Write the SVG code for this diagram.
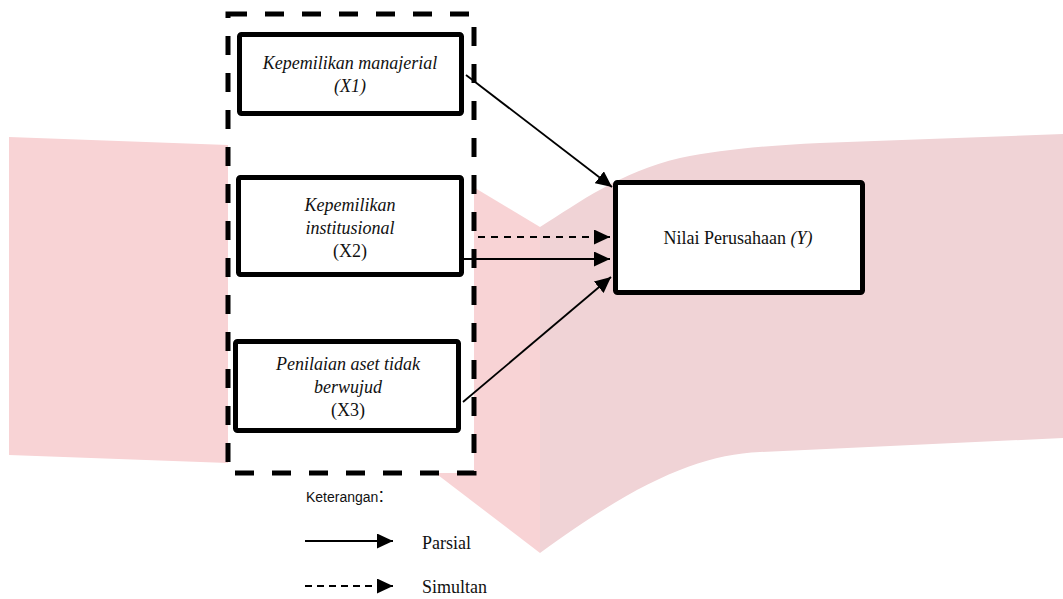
<svg xmlns="http://www.w3.org/2000/svg" width="1063" height="599" viewBox="0 0 1063 599">
<style>
.box{fill:#ffffff;stroke:#000;stroke-width:5}
.t{font-family:"Liberation Serif","Times New Roman",serif;font-size:18px;fill:#111;text-anchor:middle}
.i{font-style:italic}
.ln{stroke:#000;stroke-width:1.8;fill:none}
.dash{stroke-dasharray:7 6}
.lg{font-family:"Liberation Serif","Times New Roman",serif;font-size:18px;fill:#111}
</style>
<defs>
<marker id="ah" markerUnits="userSpaceOnUse" markerWidth="16" markerHeight="15" refX="16" refY="7.5" orient="auto">
<path d="M0,0 L16,7.5 L0,15 Z" fill="#000"/>
</marker>
</defs>
<rect width="1063" height="599" fill="#ffffff"/>
<g id="watermark">
<polygon points="9,137 228,145 228,463 9,455" fill="#f8d3d5"/>
<polygon points="400,143 540,227 540,553 400,446" fill="#f8d3d5"/>
<path d="M540,227 C580,202 620,172 680,158 C720,150 760,146 820,143 L1063,134 L1063,438 L760,452 C700,455 640,480 540,553 Z" fill="#f0d3d6"/>
</g>
<g id="group-x">
<rect x="228" y="14" width="246" height="459" fill="#ffffff" stroke="#000" stroke-width="5" stroke-dasharray="19 18"/>
</g>
<g id="node-x1">
<rect class="box" x="239.5" y="34.5" width="222" height="79" rx="2"/>
<text class="t i" x="350" y="69">Kepemilikan manajerial</text>
<text class="t i" x="350" y="92">(X1)</text>
</g>
<g id="node-x2">
<rect class="box" x="238.5" y="177.5" width="223" height="97" rx="2"/>
<text class="t i" x="350" y="211">Kepemilikan</text>
<text class="t i" x="350" y="234">institusional</text>
<text class="t" x="350" y="257">(X2)</text>
</g>
<g id="node-x3">
<rect class="box" x="235.5" y="341.5" width="223" height="89" rx="2"/>
<text class="t i" x="348" y="370">Penilaian aset tidak</text>
<text class="t i" x="348" y="393">berwujud</text>
<text class="t" x="348" y="416">(X3)</text>
</g>
<g id="node-y">
<rect class="box" x="615.5" y="182.5" width="247" height="110" rx="2"/>
<text class="t" x="738" y="244">Nilai Perusahaan <tspan class="i">(Y)</tspan></text>
</g>
<g id="connectors">
<line class="ln" x1="466" y1="75" x2="612" y2="187" marker-end="url(#ah)"/>
<line class="ln dash" x1="478" y1="237" x2="610" y2="237" marker-end="url(#ah)"/>
<line class="ln" x1="464" y1="259" x2="610" y2="259" marker-end="url(#ah)"/>
<line class="ln" x1="463" y1="402" x2="611" y2="277" marker-end="url(#ah)"/>
</g>
<g id="legend">
<text x="306" y="502" font-family="'Liberation Sans',Arial,sans-serif" font-size="14" fill="#111">Keterangan<tspan font-size="20">:</tspan></text>
<line x1="305" y1="541" x2="393" y2="541" stroke="#000" stroke-width="2" marker-end="url(#ah)"/>
<text class="lg" x="422" y="549">Parsial</text>
<line x1="305" y1="586" x2="393" y2="586" stroke="#000" stroke-width="2" stroke-dasharray="7 5" marker-end="url(#ah)"/>
<text class="lg" x="422" y="593">Simultan</text>
</g>
</svg>
